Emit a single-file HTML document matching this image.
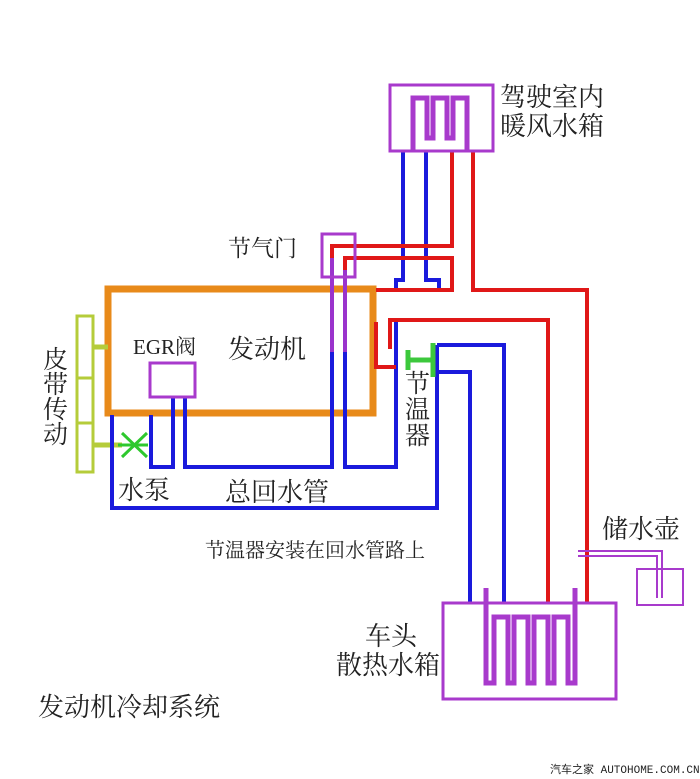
<!DOCTYPE html>
<html><head><meta charset="utf-8"><style>
body{margin:0;background:#fff}
svg{display:block}
text{font-family:"Liberation Serif","Noto Serif CJK SC",serif;fill:#222}
</style></head><body>
<svg width="700" height="779" viewBox="0 0 700 779" xmlns="http://www.w3.org/2000/svg">
<g fill="none" stroke-linejoin="miter">
<rect x="108" y="289" width="265" height="124" stroke="#e88a1a" stroke-width="7"/>
<rect x="77" y="316" width="16" height="156" stroke="#b5cc3a" stroke-width="3"/>
<path d="M77 378H93M77 423H93" stroke="#b5cc3a" stroke-width="3"/>
<path d="M93 347H108M93 445H122" stroke="#b5cc3a" stroke-width="5"/>
<path d="M118 445H148M122 433L147 457M122 457L147 433" stroke="#2ec82e" stroke-width="3"/>
<g stroke="#1a1adc" stroke-width="4">
<path d="M112 415V508H437V345"/>
<path d="M151 415V467H173V397"/>
<path d="M185 397V467H332V352"/>
<path d="M345 352V467H396V322"/>
<path d="M437 345H504V603"/>
<path d="M437 372H470V603"/>
<path d="M403 151V280H396V290"/>
<path d="M426 151V280H439V290"/>
</g>
<path d="M332 258V352M345 258V352" stroke="#9a33cc" stroke-width="4"/>
<g stroke="#e01818" stroke-width="4">
<path d="M452 151V246H332V258"/>
<path d="M345 270V258H452V290H376"/>
<path d="M473 151V290H587V603"/>
<path d="M390 349V320H548V603"/>
<path d="M376 322V367H396"/>
</g>
<rect x="322" y="234" width="33" height="43" stroke="#a83acc" stroke-width="3"/>
<rect x="150" y="363" width="45" height="34" stroke="#a83acc" stroke-width="3"/>
<rect x="390" y="85" width="103" height="66" stroke="#a83acc" stroke-width="3"/>
<path d="M413 152V98H427V138H433V98H447V138H453V98H467V152" stroke="#a83acc" stroke-width="5"/>
<path d="M433 343V377M408 350V370M408 360H433" stroke="#3cc83c" stroke-width="5"/>
<rect x="443" y="603" width="173" height="96" stroke="#a83acc" stroke-width="3"/>
<path d="M486 588V683H494V617H508V683H514V617H528V683H534V617H548V683H554V617H568V683H575V588" stroke="#a83acc" stroke-width="5"/>
<rect x="637" y="569" width="46" height="36" stroke="#a83acc" stroke-width="2"/>
<path d="M578 551H662V598M578 556H657V598" stroke="#a83acc" stroke-width="2"/>
</g>
<g font-size="26">
<text x="500" y="106">驾驶室内</text>
<text x="500" y="135">暖风水箱</text>
<text x="228" y="256" font-size="23">节气门</text>
<text x="133" y="354" font-size="21">EGR阀</text>
<text x="228" y="358">发动机</text>
<text x="43" y="368" font-size="25">皮</text><text x="43" y="393" font-size="25">带</text><text x="43" y="418" font-size="25">传</text><text x="43" y="443" font-size="25">动</text>
<text x="405" y="392" font-size="25">节</text><text x="405" y="418" font-size="25">温</text><text x="405" y="444" font-size="25">器</text>
<text x="118" y="499">水泵</text>
<text x="225" y="501">总回水管</text>
<text x="205" y="557" font-size="20">节温器安装在回水管路上</text>
<text x="602" y="538">储水壶</text>
<text x="365" y="645">车头</text>
<text x="336" y="674">散热水箱</text>
<text x="38" y="716">发动机冷却系统</text>
<text x="550" y="773" font-size="11" style="font-family:'Liberation Mono','Noto Sans CJK SC',monospace">汽车之家 AUTOHOME.COM.CN</text>
</g>
</svg>
</body></html>
